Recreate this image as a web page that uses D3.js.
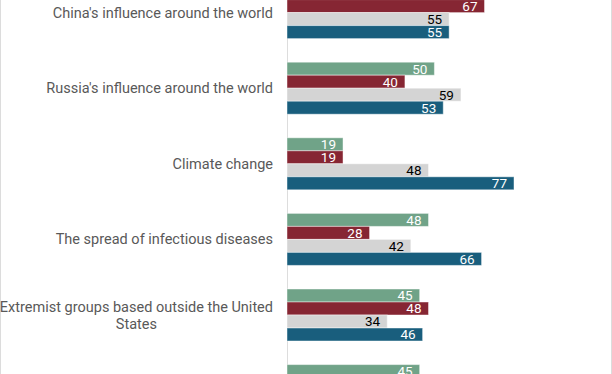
<!DOCTYPE html>
<html>
<head>
<meta charset="utf-8">
<script src="https://cdn.jsdelivr.net/npm/d3@7"></script>
<style>
  html, body { margin: 0; padding: 0; background: #fff; }
  svg { display: block; }
</style>
</head>
<body>
<svg id="chart" width="612" height="374"></svg>
<script>
// ---- data ----
const categories = [
  "China's influence around the world",
  "Russia's influence around the world",
  "Climate change",
  "The spread of infectious diseases",
  "Extremist groups based outside the United States",
  ""
];
const seriesNames = ["Series 1", "Series 2", "Series 3", "Series 4"];
const series1 = [null, 50, 19, 48, 45, 45];
const series2 = [67, 40, 19, 28, 48, null];
const series3 = [55, 59, 48, 42, 34, null];
const series4 = [55, 53, 77, 66, 46, null];
const seriesValues = [series1, series2, series3, series4];
const seriesColors = ["#70a388", "#862633", "#d4d4d4", "#195e7d"];
const labelColors = ["#ffffff", "#ffffff", "#000000", "#ffffff"];

// ---- layout ----
const W = 612, H = 374;
const svg = d3.select("#chart");
const axisX = 287;
const groupStep = 75.6, groupTop = -13.4, groupH = 52;

const x = d3.scaleLinear().domain([0, 100]).range([axisX, axisX + 294.8]);
const y = d3.scaleBand()
  .domain(categories.map((c, i) => i))
  .range([groupTop, groupTop + categories.length * groupStep - (groupStep - groupH)])
  .paddingInner((groupStep - groupH) / groupStep)
  .paddingOuter(0)
  .align(0);
const ySub = d3.scaleBand().domain(seriesNames).range([0, groupH]).padding(0);

// frame lines
svg.append("line").attr("x1", 0.5).attr("x2", 0.5).attr("y1", 0).attr("y2", H)
  .attr("stroke", "#dcdcdc").attr("stroke-width", 1);
svg.append("line").attr("x1", W - 0.5).attr("x2", W - 0.5).attr("y1", 0).attr("y2", H)
  .attr("stroke", "#dcdcdc").attr("stroke-width", 1);

// axis line
svg.append("line").attr("x1", axisX + 0.5).attr("x2", axisX + 0.5).attr("y1", 0).attr("y2", H)
  .attr("stroke", "#dddddd").attr("stroke-width", 1);

// bars
const rows = [];
categories.forEach((c, ci) => {
  seriesNames.forEach((s, si) => {
    const v = seriesValues[si][ci];
    if (v != null) rows.push({ ci, si, s, v });
  });
});

const g = svg.append("g");
g.selectAll("rect.bar").data(rows).join("rect")
  .attr("class", "bar")
  .attr("x", x(0))
  .attr("y", d => y(d.ci) + ySub(d.s))
  .attr("width", d => x(d.v) - x(0))
  .attr("height", ySub.bandwidth())
  .attr("fill", d => seriesColors[d.si])
  .attr("stroke", "rgba(255,255,255,0.45)")
  .attr("stroke-width", 1);

g.selectAll("text.val").data(rows).join("text")
  .attr("class", "val")
  .attr("x", d => x(d.v) - 7)
  .attr("y", d => y(d.ci) + ySub(d.s) + ySub.bandwidth() / 2)
  .attr("dy", "0.36em")
  .attr("text-anchor", "end")
  .attr("font-family", "Roboto, sans-serif")
  .attr("font-size", 13.5)
  .attr("fill", d => labelColors[d.si])
  .text(d => d.v);

// category labels with wrapping
const labelRight = 273, maxW = 280, lineH = 17;
categories.forEach((c, ci) => {
  if (!c) return;
  const t = svg.append("text")
    .attr("font-family", "Roboto, sans-serif")
    .attr("font-size", 14.5)
    .attr("fill", "#595959")
    .attr("text-anchor", "middle");
  const words = c.split(" ");
  const lines = [];
  let cur = [];
  const probe = t.append("tspan");
  words.forEach(w => {
    const test = cur.concat(w).join(" ");
    probe.text(test);
    if (probe.node().getComputedTextLength() > maxW && cur.length) {
      lines.push(cur.join(" "));
      cur = [w];
    } else cur.push(w);
  });
  lines.push(cur.join(" "));
  let blockW = 0;
  lines.forEach(l => { probe.text(l); blockW = Math.max(blockW, probe.node().getComputedTextLength()); });
  probe.remove();
  const cx = labelRight - blockW / 2;
  const cy = y(ci) + groupH / 2;
  lines.forEach((l, li) => {
    t.append("tspan")
      .attr("x", cx)
      .attr("y", cy + (li - (lines.length - 1) / 2) * lineH)
      .attr("dy", "0.35em")
      .text(l);
  });
});
</script>
</body>
</html>
